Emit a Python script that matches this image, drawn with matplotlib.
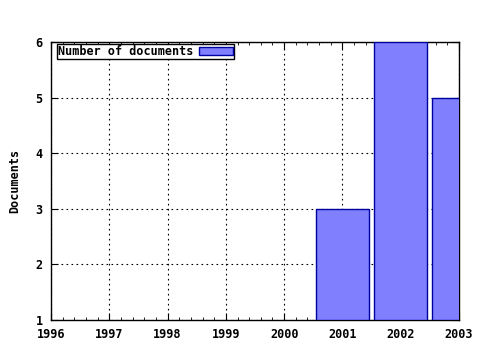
import numpy as np
import matplotlib.pyplot as plt
from matplotlib.ticker import MultipleLocator

years = [2001, 2002, 2003]
documents = [3, 6, 5]
year_ticks = [1996, 1997, 1998, 1999, 2000, 2001, 2002, 2003]
doc_ticks = [1, 2, 3, 4, 5, 6]

plt.rcParams['font.family'] = 'DejaVu Sans Mono'
plt.rcParams['font.weight'] = 'bold'
plt.rcParams['axes.labelweight'] = 'bold'
plt.rcParams['font.size'] = 8.5

fig = plt.figure(figsize=(4.8, 3.5), dpi=100)
ax = fig.add_axes([51 / 480, 30 / 350, 408 / 480, 278 / 350])

base = doc_ticks[0]
ax.bar(years, np.array(documents) - base, bottom=base, width=0.91,
       color='#8080ff', edgecolor='#0000a0', linewidth=1,
       label='Number of documents', zorder=3)

ax.set_xlim(year_ticks[0], year_ticks[-1])
ax.set_ylim(doc_ticks[0], doc_ticks[-1])
ax.set_xticks(year_ticks)
ax.set_yticks(doc_ticks)
ax.xaxis.set_minor_locator(MultipleLocator(0.2))
ax.tick_params(which='both', direction='in', top=True, right=True, pad=6)
ax.tick_params(which='major', length=5)
ax.tick_params(which='minor', length=2.5)
ax.grid(True, which='major', color='black', linestyle=(0, (1.5, 3)), linewidth=0.8, zorder=1)
ax.set_ylabel('Documents', labelpad=10)
for s in ax.spines.values():
    s.set_linewidth(1)

leg = ax.legend(loc='upper left', bbox_to_anchor=(6 / 408, 1 - 2 / 278),
                borderaxespad=0, markerfirst=False, fancybox=False,
                edgecolor='black', framealpha=1,
                borderpad=0.1, handlelength=2.8, handleheight=0.6,
                handletextpad=0.5)
leg.get_frame().set_linewidth(1)

fig.savefig('out.png', dpi=100)
